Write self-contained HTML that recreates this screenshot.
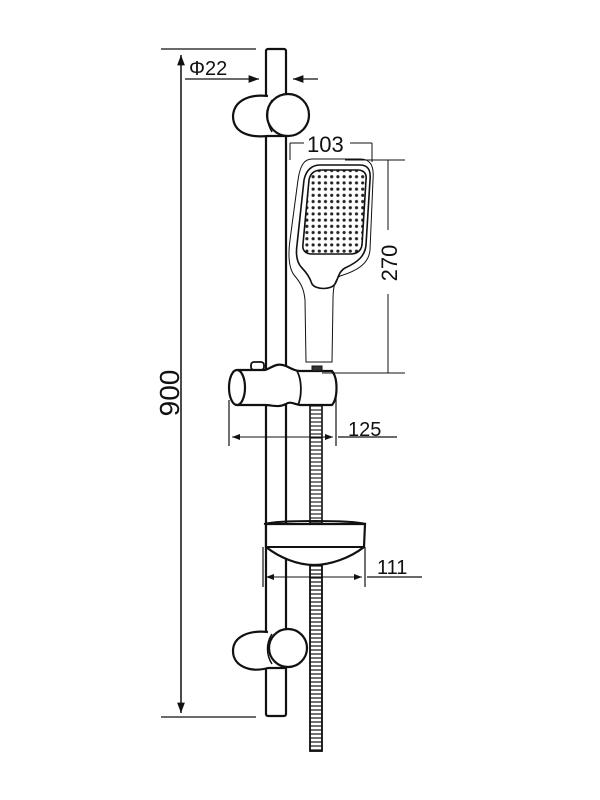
<!DOCTYPE html>
<html><head><meta charset="utf-8"><style>html,body{margin:0;padding:0;background:#fff}svg{display:block}</style></head>
<body>
<svg width="600" height="800" viewBox="0 0 600 800" xmlns="http://www.w3.org/2000/svg" font-family="Liberation Sans, sans-serif">
<defs>
<pattern id="dots" x="0" y="0" width="6.2" height="6.2" patternUnits="userSpaceOnUse">
<circle cx="3.1" cy="3.1" r="1.6" fill="#222"/>
</pattern>
<pattern id="hose" x="0" y="0" width="12" height="4" patternUnits="userSpaceOnUse">
<line x1="0" y1="2" x2="12" y2="2" stroke="#111" stroke-width="1.1"/>
</pattern>
<marker id="ar" markerWidth="8" markerHeight="6" refX="8" refY="3" orient="auto"><path d="M0,0 L8,3 L0,6 z" fill="#111"/></marker>
</defs>
<g stroke="#111" fill="none" stroke-width="1.3">
<line x1="161" y1="49" x2="256" y2="49"/>
<line x1="161" y1="717" x2="256" y2="717"/>
<line x1="181" y1="713" x2="181" y2="55" marker-end="url(#ar)"/>
<line x1="181" y1="55" x2="181" y2="713" marker-end="url(#ar)"/>
<line x1="185" y1="79" x2="259" y2="79" marker-end="url(#ar)"/>
<line x1="318" y1="79" x2="293" y2="79" marker-end="url(#ar)"/>
<rect x="310" y="400" width="12" height="351" fill="url(#hose)" stroke-width="1.6"/>
<rect x="266" y="49" width="20" height="667" fill="#fff" stroke-width="2.2" rx="2"/>
<path d="M268,96 C250,94 234,100 233,116 C233,132 248,138 268,136 L285,136" fill="#fff" stroke-width="2.2"/>
<circle cx="288" cy="115" r="21" fill="#fff" stroke-width="2.2"/>
<path d="M272,100 C266,110 266,122 272,132" stroke-width="1.5"/>
<path d="M268,632 C250,630 233,636 233,651 C233,666 250,673 268,668 L285,668" fill="#fff" stroke-width="2.2"/>
<circle cx="288" cy="648" r="19" fill="#fff" stroke-width="2.2"/>
<path d="M272,634 C266,643 266,655 272,664" stroke-width="1.5"/>
<rect x="251" y="362" width="13" height="8" rx="3" fill="#fff" stroke-width="1.8"/>
<path d="M237,370 L265,370 C272,368 276,362 286,366 C292,369 296,371 300,371 L332,371 C338,378 338,398 332,405 L300,405 C294,404 290,401 286,404 C278,408 272,405 265,405 L237,405" fill="#fff" stroke-width="2.2"/>
<ellipse cx="237" cy="387.5" rx="8" ry="17.5" fill="#fff" stroke-width="2.2"/>
<path d="M297,371 C302,380 302,396 298,405" stroke-width="1.8"/>
<rect x="312" y="366" width="10" height="5" fill="#333" stroke-width="1"/>
<path d="M312,159 L360,159 C372,159 374,168 373,180 L370,250 C369,262 360,270 340,276 C334,280 333,290 333,300 L332,362 L306,362 L305,300 C304,288 300,282 294,275 C289,268 288,255 290,240 L298,180 C300,166 304,159 312,159 Z" fill="#fff" stroke-width="1"/>
<path d="M320,165 L360,165 C368,165 371,170 370,180 L366,245 C365,256 358,262 345,268 C338,272 338,280 335,284 C331,290 316,290 312,284 C310,278 306,272 302,268 C296,262 296,252 297,245 L304,180 C306,170 312,165 320,165 Z" stroke-width="1.6"/>
<path d="M322,170 L358,170 C364,170 367,174 366,180 L362,245 C361,251 357,254 350,254 L312,254 C305,254 302,250 303,244 L309,180 C310,174 314,170 322,170 Z" fill="url(#dots)" stroke-width="1.6"/>
<line x1="290" y1="143" x2="304" y2="143" stroke-width="1"/>
<line x1="350" y1="143" x2="372" y2="143" stroke-width="1"/>
<line x1="372" y1="143" x2="372" y2="162" stroke-width="1"/>
<line x1="290" y1="143" x2="290" y2="160" stroke-width="1"/>
<line x1="345" y1="160" x2="405" y2="160" stroke-width="1"/>
<line x1="322" y1="373" x2="405" y2="373" stroke-width="1"/>
<line x1="388" y1="160" x2="388" y2="230" stroke-width="1"/>
<line x1="388" y1="294" x2="388" y2="373" stroke-width="1"/>
<line x1="229" y1="400" x2="229" y2="446" stroke-width="1.2"/>
<line x1="336" y1="395" x2="336" y2="446" stroke-width="1.2"/>
<line x1="232" y1="437" x2="333" y2="437" stroke-width="1" marker-end="url(#ar)"/>
<line x1="333" y1="437" x2="232" y2="437" stroke-width="1" marker-end="url(#ar)"/>
<line x1="338" y1="437" x2="397" y2="437" stroke-width="1.2"/>
<path d="M266,524 L365,524 L364,547 C350,558 330,565 314,565 C298,565 280,558 266,547 Z" fill="#fff" stroke-width="2.2"/>
<path d="M264,524 C280,520 350,520 366,524" stroke-width="2"/>
<line x1="265" y1="547" x2="365" y2="547" stroke-width="2"/>
<rect x="310" y="565" width="12" height="186" fill="url(#hose)" stroke-width="1.6"/>
<line x1="263" y1="547" x2="263" y2="587" stroke-width="1.2"/>
<line x1="365" y1="547" x2="365" y2="587" stroke-width="1.2"/>
<line x1="266" y1="577" x2="362" y2="577" stroke-width="1" marker-end="url(#ar)"/>
<line x1="362" y1="577" x2="266" y2="577" stroke-width="1" marker-end="url(#ar)"/>
<line x1="367" y1="577" x2="422" y2="577" stroke-width="1.2"/>
</g>
<g fill="#111" font-size="20">
<text x="189" y="75">Φ22</text>
<text x="307" y="152" font-size="22">103</text>
<text x="348" y="436">125</text>
<text x="377" y="574">111</text>
<text transform="translate(397,263) rotate(-90)" text-anchor="middle" font-size="22">270</text>
<text transform="translate(179,393) rotate(-90)" text-anchor="middle" font-size="28">900</text>
</g>
</svg>
</body></html>
